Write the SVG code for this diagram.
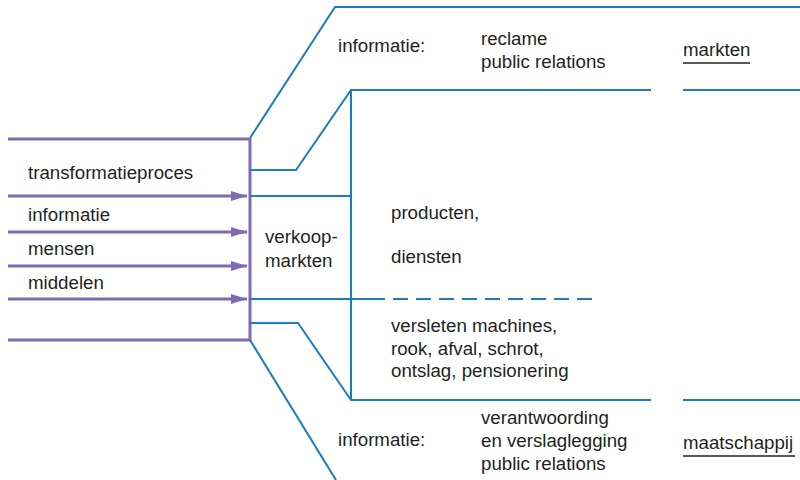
<svg xmlns="http://www.w3.org/2000/svg" width="800" height="480" viewBox="0 0 800 480">
  <defs>
    <style>
      text { font-family: "Liberation Sans", Arial, sans-serif; font-size: 18.7px; fill: #231f20; }
      .p { stroke: #7f6bb5; stroke-width: 3; fill: none; }
      .b { stroke: #1a7cc4; stroke-width: 2; fill: none; }
      .u { stroke: #231f20; stroke-width: 1.3; }
    </style>
    <marker id="ah" markerUnits="userSpaceOnUse" markerWidth="18" markerHeight="12" refX="16" refY="5" orient="auto">
      <path d="M0,0 L16,5 L0,10 Z" fill="#7f6bb5"/>
    </marker>
  </defs>
  <rect width="800" height="480" fill="#ffffff"/>

  <!-- enterprise block (purple) -->
  <g id="onderneming">
    <path class="p" d="M8,139 H250 V340 H8"/>
    <text x="28" y="179">transformatieproces</text>
    <text x="28" y="221">informatie</text>
    <text x="28" y="255">mensen</text>
    <text x="28" y="289">middelen</text>
  </g>

  <!-- input arrows -->
  <g id="inputs">
    <line class="p" x1="8" y1="196" x2="247" y2="196" marker-end="url(#ah)"/>
    <line class="p" x1="8" y1="232" x2="247" y2="232" marker-end="url(#ah)"/>
    <line class="p" x1="8" y1="266" x2="247" y2="266" marker-end="url(#ah)"/>
    <line class="p" x1="8" y1="299" x2="247" y2="299" marker-end="url(#ah)"/>
  </g>

  <!-- output channels (blue) -->
  <g id="connectors">
    <path class="b" d="M250,138 L335,7 H800"/>
    <path class="b" d="M250,170 H296 L351,90 H651"/>
    <line class="b" x1="683" y1="90" x2="800" y2="90"/>
    <line class="b" x1="351" y1="90" x2="351" y2="400"/>
    <line class="b" x1="250" y1="196" x2="351" y2="196"/>
    <line class="b" x1="250" y1="299" x2="370" y2="299"/>
    <line class="b" x1="370" y1="299" x2="597" y2="299" stroke-dasharray="15,8"/>
    <path class="b" d="M250,323 H298 L351,400 H651"/>
    <line class="b" x1="683" y1="400" x2="800" y2="400"/>
    <line class="b" x1="250" y1="340" x2="336" y2="480"/>
  </g>

  <g id="verkoopmarkten">
    <text x="265" y="243">verkoop-</text>
    <text x="265" y="267">markten</text>
  </g>

  <g id="informatie-markten">
    <text x="338" y="52">informatie:</text>
    <text x="481" y="45">reclame</text>
    <text x="481" y="68">public relations</text>
  </g>
  <g id="markten">
    <text x="683" y="56">markten</text>
    <line class="u" x1="683" y1="63" x2="750" y2="63"/>
  </g>

  <g id="producten">
    <text x="391" y="219">producten,</text>
    <text x="391" y="263">diensten</text>
  </g>

  <g id="afvoer">
    <text x="391" y="332">versleten machines,</text>
    <text x="391" y="355">rook, afval, schrot,</text>
    <text x="391" y="377">ontslag, pensionering</text>
  </g>

  <g id="informatie-maatschappij">
    <text x="338" y="446">informatie:</text>
    <text x="481" y="424">verantwoording</text>
    <text x="481" y="447">en verslaglegging</text>
    <text x="481" y="470">public relations</text>
  </g>
  <g id="maatschappij">
    <text x="683" y="449">maatschappij</text>
    <line class="u" x1="683" y1="456" x2="795" y2="456"/>
  </g>
</svg>
